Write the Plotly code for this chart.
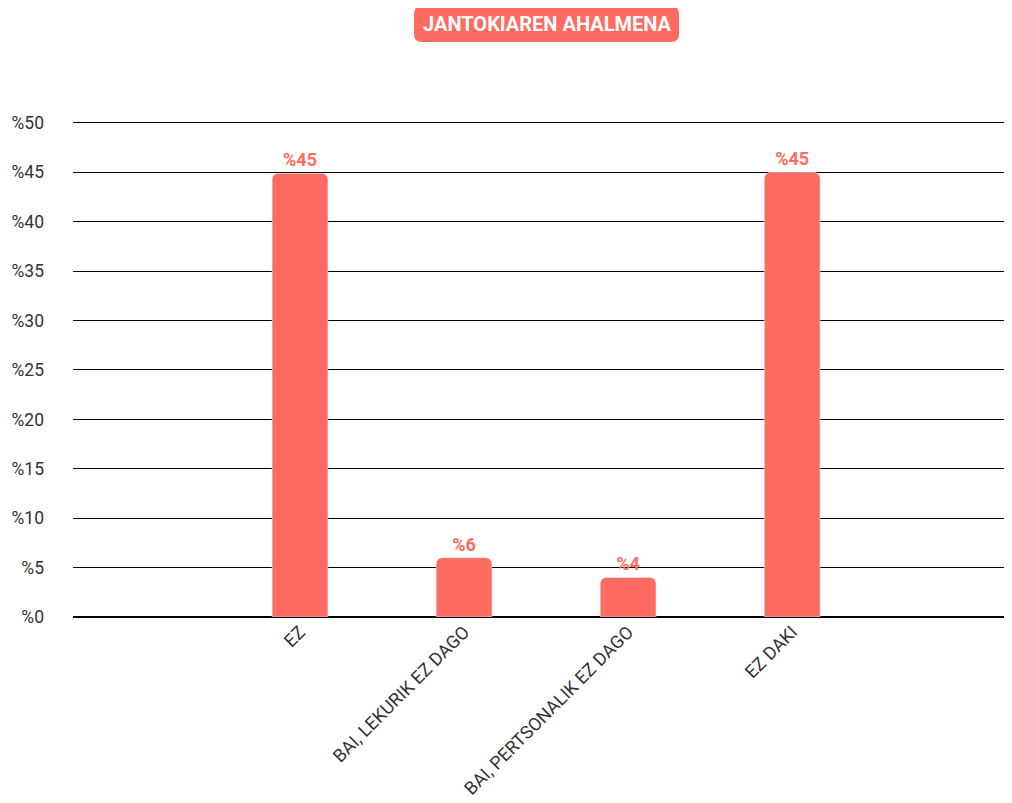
import plotly.graph_objects as go

categories = ["EZ", "BAI, LEKURIK EZ DAGO", "BAI, PERTSONALIK EZ DAGO", "EZ DAKI"]
values = [44.9, 6.0, 4.0, 45.0]
labels = ["%45", "%6", "%4", "%45"]
y_ticks = [0, 5, 10, 15, 20, 25, 30, 35, 40, 45, 50]
y_ticktext = ["%" + str(v) for v in y_ticks]
title_text = "JANTOKIAREN AHALMENA"

RED = "#FF6B61"
OFF = 8  # page body margin offset
W, H = 1012 - OFF, 803 - OFF
L, R, T, B = 73 - OFF, 0, 120 - OFF, 186
pw, ph = W - L - R, H - T - B
YMAX = 50.3

fig = go.Figure()
fig.add_trace(go.Bar(
    x=categories, y=values, text=labels, textposition="outside",
    textfont=dict(family="Roboto", size=18, color=RED, weight="bold"),
    marker=dict(color=RED, cornerradius=6), width=0.34, cliponaxis=False,
    hoverinfo="skip",
))

def px2paper(px, py):
    px -= OFF
    py -= OFF
    return (px - L) / pw, (H - B - py) / ph

# rounded title box
x0, y0, x1, y1, r = 414, 6, 679, 42, 8
def P(px, py):
    a, b = px2paper(px, py)
    return f"{a:.5f},{b:.5f}"
path = (f"M {P(x0+r,y0)} L {P(x1-r,y0)} Q {P(x1,y0)} {P(x1,y0+r)} "
        f"L {P(x1,y1-r)} Q {P(x1,y1)} {P(x1-r,y1)} L {P(x0+r,y1)} "
        f"Q {P(x0,y1)} {P(x0,y1-r)} L {P(x0,y0+r)} Q {P(x0,y0)} {P(x0+r,y0)} Z")
fig.add_shape(type="path", path=path, xref="paper", yref="paper",
              fillcolor=RED, line=dict(width=0), layer="above")
cx, cy = px2paper((x0 + x1) / 2, (y0 + y1) / 2)
fig.add_annotation(text=title_text, xref="paper", yref="paper", x=cx, y=cy,
                   xanchor="center", yanchor="middle", showarrow=False,
                   font=dict(family="Roboto", size=20, color="white", weight="bold"))

fig.update_layout(
    width=W, height=H, margin=dict(l=L, r=R, t=T, b=B),
    plot_bgcolor="white", paper_bgcolor="white", showlegend=False,
    font=dict(family="Roboto", color="#333333"),
)
fig.update_xaxes(range=[-1.384, 4.34], tickangle=-45,
                 tickfont=dict(family="Roboto", size=18, color="#333333"),
                 showgrid=False, showline=False, zeroline=False, ticks="",
                 automargin=False)
fig.update_yaxes(range=[0, YMAX], tickvals=y_ticks, ticktext=y_ticktext,
                 tickfont=dict(family="Roboto", size=17.5, color="#333333"),
                 showgrid=True, gridcolor="black", gridwidth=1,
                 zeroline=True, zerolinecolor="black", zerolinewidth=1.5,
                 ticks="", ticklabelstandoff=28, showline=False,
                 automargin=False)

fig.write_html("out.html")
